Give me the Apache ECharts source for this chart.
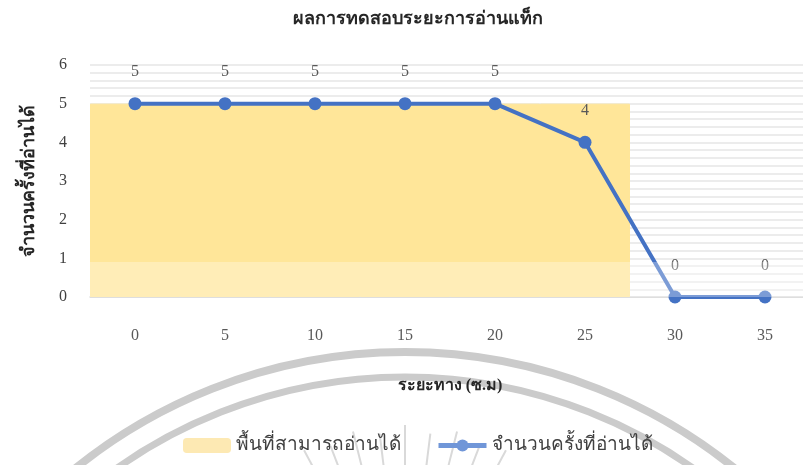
<!DOCTYPE html>
<html>
<head>
<meta charset="utf-8">
<script src="https://cdn.jsdelivr.net/npm/echarts@6/dist/echarts.min.js"></script>
<style>
  html, body { margin: 0; padding: 0; background: #fff; }
  #container { width: 803px; height: 465px; }
</style>
</head>
<body>
<div id="container"></div>
<script>
// data
const distances = ['0', '5', '10', '15', '20', '25', '30', '35'];
const readCounts = [5, 5, 5, 5, 5, 4, 0, 0];
const readableArea = [5, 5, 5, 5, 5, 5, null, null];

const serif = 'Liberation Serif';

let mychart = echarts.init(document.getElementById('container'));

// faint watermark behind the chart (two arcs and some rays)
let watermark = [
  { type: 'arc', z: -10, silent: true,
    shape: { cx: 405, cy: 877, r: 525, startAngle: Math.PI, endAngle: 2 * Math.PI },
    style: { stroke: '#cbcbcb', lineWidth: 8, fill: null } },
  { type: 'arc', z: -10, silent: true,
    shape: { cx: 405, cy: 877, r: 500, startAngle: Math.PI, endAngle: 2 * Math.PI },
    style: { stroke: '#cbcbcb', lineWidth: 7, fill: null } }
];
for (let a = -42; a <= 42; a += 7) {
  let rad = a * Math.PI / 180;
  let r0 = 215 - (Math.abs(a) % 14);
  watermark.push({
    type: 'line', z: -10, silent: true,
    shape: {
      x1: 405 + r0 * Math.sin(rad), y1: 640 - r0 * Math.cos(rad),
      x2: 405 + 150 * Math.sin(rad), y2: 640 - 150 * Math.cos(rad)
    },
    style: { stroke: '#d9d9d9', lineWidth: 2 }
  });
}

let options = {
  animation: false,
  title: {
    text: 'ผลการทดสอบระยะการอ่านแท็ก',
    left: 288,
    top: 5,
    textStyle: { fontFamily: serif, fontSize: 18, fontWeight: 'bold', color: '#262626' }
  },
  grid: { left: 90, top: 65, width: 720, height: 232, outerBoundsMode: 'none' },
  legend: {
    top: 431,
    left: 178,
    itemWidth: 48,
    itemHeight: 15,
    itemGap: 35,
    textStyle: { fontFamily: serif, fontSize: 19, color: '#404040' },
    data: [
      { name: 'พื้นที่สามารถอ่านได้', itemStyle: { color: '#fde9b3', borderWidth: 0 } },
      { name: 'จำนวนครั้งที่อ่านได้', itemStyle: { color: '#7096d8' },
        lineStyle: { color: '#7096d8', width: 5 } }
    ]
  },
  xAxis: {
    type: 'category',
    data: distances,
    boundaryGap: true,
    name: 'ระยะทาง (ซ.ม)',
    nameLocation: 'middle',
    nameGap: 81,
    nameTextStyle: { fontFamily: serif, fontSize: 16, fontWeight: 'bold', color: '#262626' },
    axisLine: { lineStyle: { color: '#d9d9d9', width: 1.5 } },
    axisTick: { show: false },
    axisLabel: { margin: 31, fontFamily: serif, fontSize: 16, color: '#595959' }
  },
  yAxis: {
    type: 'value',
    min: 0,
    max: 6,
    interval: 1,
    name: 'จำนวนครั้งที่อ่านได้',
    nameLocation: 'middle',
    nameRotate: 90,
    nameGap: 52,
    nameTextStyle: { fontFamily: serif, fontSize: 18, fontWeight: 'bold', color: '#262626' },
    axisLine: { show: false },
    axisTick: { show: false },
    axisLabel: { margin: 23, fontFamily: serif, fontSize: 16, color: '#404040' },
    splitLine: { lineStyle: { color: '#ececec', width: 2 } },
    minorTick: { show: false, splitNumber: 5 },
    minorSplitLine: { show: true, lineStyle: { color: '#ececec', width: 2 } }
  },
  graphic: watermark.concat([
    { type: 'rect', z: 100, silent: true,
      shape: { x: 90, y: 262, width: 720, height: 35 },
      style: { fill: 'rgba(255,255,255,0.3)' } }
  ]),
  series: [
    {
      name: 'พื้นที่สามารถอ่านได้',
      type: 'bar',
      data: readableArea,
      barCategoryGap: '0%',
      itemStyle: { color: '#ffe699', borderColor: '#ffe699', borderWidth: 1 },
      z: 1
    },
    {
      name: 'จำนวนครั้งที่อ่านได้',
      type: 'line',
      data: readCounts,
      symbol: 'circle',
      symbolSize: 13,
      lineStyle: { color: '#4472c4', width: 4 },
      itemStyle: { color: '#4472c4' },
      label: {
        show: true,
        position: 'top',
        distance: 17,
        fontFamily: serif,
        fontSize: 16,
        color: '#595959'
      },
      z: 3
    }
  ]
};

mychart.setOption(options);
window.addEventListener('resize', () => { mychart.resize() });
</script>
</body>
</html>
